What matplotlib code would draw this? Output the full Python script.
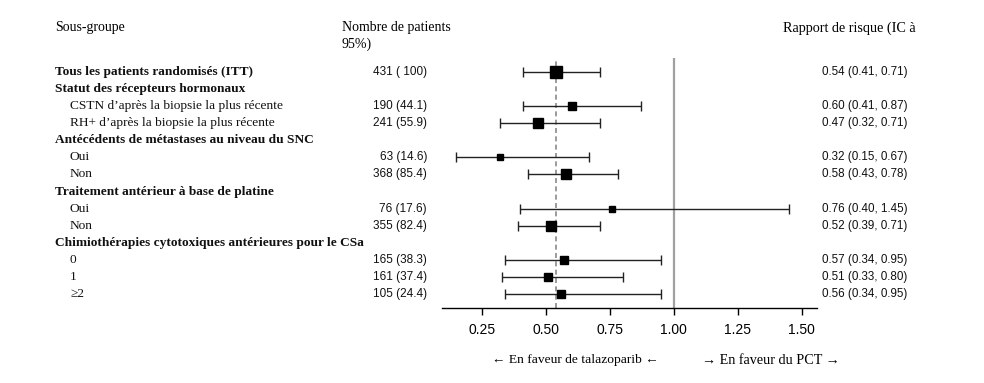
import numpy as np
import matplotlib.pyplot as plt
from matplotlib.transforms import blended_transform_factory

# Rows of the forest plot (top to bottom)
labels = [
    "Tous les patients randomisés (ITT)",
    "Statut des récepteurs hormonaux",
    "CSTN d\u2019après la biopsie la plus récente",
    "RH+ d\u2019après la biopsie la plus récente",
    "Antécédents de métastases au niveau du SNC",
    "Oui",
    "Non",
    "Traitement antérieur à base de platine",
    "Oui",
    "Non",
    "Chimiothérapies cytotoxiques antérieures pour le CSa",
    "0",
    "1",
    "\u22652",
]
is_header = [True, True, False, False, True, False, False, True, False, False, True, False, False, False]
n_patients = [431, None, 190, 241, None, 63, 368, None, 76, 355, None, 165, 161, 105]
pct = ["100", None, "44.1", "55.9", None, "14.6", "85.4", None, "17.6", "82.4", None, "38.3", "37.4", "24.4"]
hr = [0.54, None, 0.60, 0.47, None, 0.32, 0.58, None, 0.76, 0.52, None, 0.57, 0.51, 0.56]
ci_low = [0.41, None, 0.41, 0.32, None, 0.15, 0.43, None, 0.40, 0.39, None, 0.34, 0.33, 0.34]
ci_high = [0.71, None, 0.87, 0.71, None, 0.67, 0.78, None, 1.45, 0.71, None, 0.95, 0.80, 0.95]
xticks = [0.25, 0.50, 0.75, 1.00, 1.25, 1.50]

W, H = 984, 383
fig = plt.figure(figsize=(W / 100, H / 100), dpi=100)

# forest axes placed in pixel terms
top_px, bot_px = 58, 308
ax = fig.add_axes([442 / W, (H - bot_px) / H, (817 - 442) / W, (bot_px - top_px) / H])
nrow = len(labels)
step = (294 - 72) / (nrow - 1)
ax.set_ylim(nrow - 1 + (bot_px - 294) / step, -(72 - top_px) / step)
ax.set_xlim(0.094, 1.559)

serif = "Liberation Serif"
sans = "Liberation Sans"

# reference lines
ax.axvline(hr[0], color="#8a8a8a", ls=(0, (3, 2)), lw=1.2, zorder=1)
ax.axvline(1.0, color="#a0a0a0", lw=1.6, zorder=1)

tr = blended_transform_factory(fig.transFigure, ax.transData)
for i, lab in enumerate(labels):
    x0 = 55 / W if is_header[i] else 70 / W
    fig.text(x0, i, lab, transform=tr, va="center", ha="left", family=serif,
             fontsize=9.6, fontweight="bold" if is_header[i] else "normal", color="#111111")
    if hr[i] is None:
        continue
    fig.text(427 / W, i, f"{n_patients[i]} ({pct[i]:>4})", transform=tr, va="center",
             ha="right", family=sans, fontsize=8.5, color="#111111")
    fig.text(822 / W, i, f"{hr[i]:.2f} ({ci_low[i]:.2f}, {ci_high[i]:.2f})", transform=tr,
             va="center", ha="left", family=sans, fontsize=8.4, color="#111111")
    ax.errorbar(hr[i], i, xerr=[[hr[i] - ci_low[i]], [ci_high[i] - hr[i]]], fmt="none",
                ecolor="#222222", elinewidth=1.0, capsize=3.8, capthick=1.0, zorder=2)
    # square size grows with the number of patients
    ax.plot(hr[i], i, marker="s", color="black", ms=1.1 * n_patients[i] ** 0.33, zorder=3)

for s in ["top", "right", "left"]:
    ax.spines[s].set_visible(False)
ax.spines["bottom"].set_linewidth(1.0)
ax.set_yticks([])
ax.set_xticks(xticks)
ax.set_xticklabels([f"{t:.2f}" for t in xticks], family=sans, fontsize=10)
ax.tick_params(axis="x", length=5, width=1.0, pad=6)

# column headers
fig.text(55 / W, 1 - 28 / H, "Sous-groupe", family=serif, fontsize=10, va="center")
fig.text(342 / W, 1 - 28 / H, "Nombre de patients", family=serif, fontsize=10, va="center")
fig.text(342 / W, 1 - 44 / H, "95%)", family=serif, fontsize=10, va="center")
fig.text(783 / W, 1 - 28 / H, "Rapport de risque (IC à", family=serif, fontsize=10.2, va="center")

# direction labels
fig.text(575 / W, 1 - 360 / H, "\u2190 En faveur de talazoparib \u2190", family=serif,
         fontsize=9.7, ha="center", va="center")
fig.text(771 / W, 1 - 360 / H, "\u2192 En faveur du PCT \u2192", family=serif,
         fontsize=10.2, ha="center", va="center")

fig.savefig("out.png", dpi=100)
